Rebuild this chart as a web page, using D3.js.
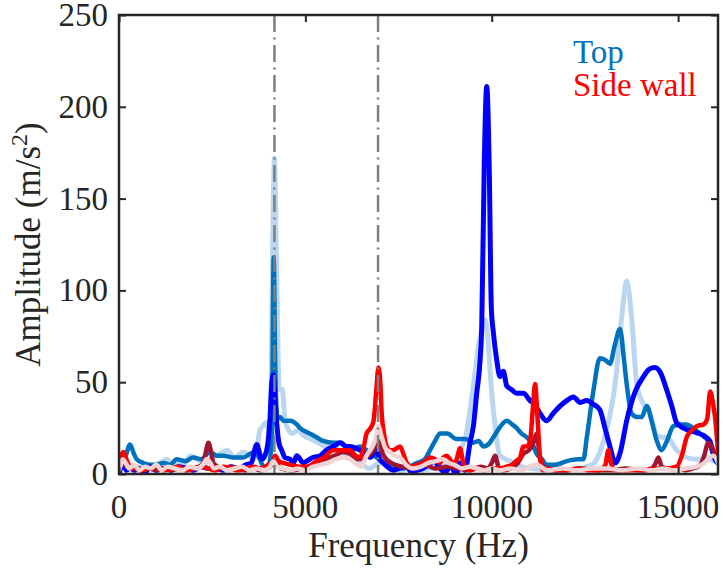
<!DOCTYPE html>
<html>
<head>
<meta charset="utf-8">
<script src="https://cdn.jsdelivr.net/npm/d3@7"></script>
</head>
<body style="margin:0">
<svg id="chart" width="723" height="569"></svg>
<script>
// ---------------- DATA ----------------
const xTicks = [0, 5000, 10000, 15000];
const yTicks = [0, 50, 100, 150, 200, 250];
const refLines = [4170, 6950];
const legendLabels = ["Top", "Side wall"];
const legendColors = ["#0072BD", "#FF0000"];

// Top - light blue
const topLightF = [0,100,200,350,500,700,900,1100,1280,1450,1600,1750,1900,2100,2300,2500,2700,2900,3100,3340,3500,3650,3780,3850,3960,4060,4120,4170,4230,4300,4380,4450,4520,4650,4800,4950,5150,5350,5550,5750,5950,6150,6350,6500,6700,6900,7100,7300,7550,7800,8100,8400,8700,9000,9150,9300,9420,9550,9650,9750,9820,9900,9960,10000,10090,10220,10500,10800,11100,11500,11900,12300,12550,12750,13000,13150,13310,13490,13620,13750,13890,14070,14250,14430,14600,14700,14960,15230,15500,15800,16070];
const topLightA = [3,6,4,5,3,5,4,6,8,5,7,5,10,8,6,9,11,13,9,12,10,9,24,26,28,20,120,172,110,46,46,30,25,22,24,21,19,17,15,15,12,10,8,6,3,5,7,3,2,3,2,3,4,6,13,20,35,55,70,80,84,73,55,44,26,10,7,4,3,2,2,3,4,6,18,30,49,86,105,86,49,38,33,21,20,20,13,9,8,8,6];

// Top - MATLAB blue
const topMidF = [0,80,160,295,400,474,653,850,1010,1190,1370,1548,1770,1994,2200,2440,2620,2800,3068,3336,3515,3650,3780,3900,4020,4100,4150,4190,4250,4320,4410,4590,4770,4860,5124,5300,5480,5750,5950,6200,6470,6700,6910,7100,7270,7600,7990,8200,8345,8480,8613,8800,9060,9300,9506,9650,9775,9900,10044,10200,10402,10550,10670,10800,10940,11100,11206,11350,11475,11700,12012,12300,12460,12550,12725,12900,13050,13170,13300,13440,13550,13620,13750,13900,14020,14160,14300,14430,14560,14700,14870,15050,15230,15400,15590,15800,16000,16070];
const topMidA = [3,8,9,16,11,8,6,5,5,6,5,8,7,9,8,12,10,10,9,9,11,12,8,3,5,20,118,60,30,31,29,29,27,25,22,20,18,17,17,13,15,12,9,6,4,3,6,8,13,18,22,22,19,19,17,18,15,16,20,25,29,27,25,22,20,16,11,8,5,5,7,8,8,20,45,63,62,60,70,79,62,49,33,31,31,37,28,18,13,18,26,27,27,25,22,18,8,6];

// Top - pure blue
const topDarkF = [0,60,120,200,300,400,550,700,850,1000,1200,1400,1600,1800,2000,2200,2400,2600,2800,3000,3200,3400,3550,3694,3830,3950,4050,4100,4140,4190,4230,4300,4365,4450,4590,4680,4770,4950,5034,5200,5400,5570,5750,5930,6100,6200,6350,6470,6600,6740,6910,7000,7090,7200,7360,7500,7720,7850,7990,8150,8300,8450,8613,8750,8900,9050,9149,9283,9417,9506,9597,9680,9731,9800,9866,9930,9990,10044,10134,10223,10310,10402,10530,10670,10850,11028,11150,11296,11475,11650,11830,12012,12190,12370,12550,12725,12900,13050,13170,13310,13450,13620,13850,14070,14220,14380,14530,14690,14830,14960,15150,15410,15680,15850,15990,16070];
const topDarkA = [0,4,5,2,4,2,3,1,4,2,3,2,4,3,2,4,3,3,2,4,3,5,6,16,8,12,30,50,54,40,28,16,13,9,8,6,10,6,7,9,10,13,15,17,15,15,14,13,11,9,13,8,6,4,2,3,4,1,2,3,5,7,3,1,4,0,6,2,17,26,44,60,80,170,211,170,90,77,62,53,56,48,46,44,44,40,38,33,29,33,37,40,42,39,40,38,35,24,15,6,12,29,45,53,57,58,55,46,37,28,25,23,21,18,8,6];

// Side wall - red
const sideRedF = [0,60,116,180,260,350,450,600,800,1000,1200,1400,1600,1800,2000,2200,2400,2600,2800,3000,3200,3400,3600,3800,4000,4100,4190,4280,4410,4600,4860,5050,5300,5500,5750,6020,6200,6350,6470,6560,6640,6750,6830,6900,6960,7010,7045,7110,7180,7260,7360,7450,7540,7630,7720,7850,7990,8150,8350,8480,8610,8700,8790,8880,8970,9060,9149,9238,9330,9417,9600,9800,10000,10200,10400,10536,10650,10760,10850,10940,11028,11100,11162,11230,11296,11385,11500,11700,12000,12300,12600,12900,13050,13130,13200,13300,13500,13800,14100,14400,14700,14960,15100,15230,15380,15500,15680,15780,15860,15940,15990,16070];
const sideRedA = [5,10,12,9,5,3,4,2,3,4,2,3,4,2,3,4,3,2,4,3,2,3,4,3,5,6,10,7,6,5,4,4,7,9,13,13,13,10,9,14,22,25,29,45,58,50,34,22,15,13,13,14,15,11,6,4,5,6,9,8,6,9,10,8,5,8,14,6,3,2,3,2,3,3,4,5,7,9,15,15,18,35,49,30,9,2,3,2,2,3,2,2,5,13,6,2,2,2,2,3,3,4,10,20,24,26,27,30,45,38,31,12];

// Side wall - dark red
const sideDarkF = [0,100,200,400,600,800,1000,1200,1400,1600,1800,2000,2150,2260,2330,2400,2470,2530,2650,2800,3000,3200,3400,3600,3800,4000,4170,4350,4600,4900,5200,5500,5800,6000,6200,6400,6600,6800,6950,7100,7300,7600,7900,8200,8500,8800,9100,9400,9700,9900,10000,10089,10180,10300,10500,10700,10850,11000,11100,11206,11300,11450,11700,12000,12400,12800,13200,13600,14000,14300,14400,14470,14560,14700,15000,15200,15400,15600,15700,15810,15900,16000,16070];
const sideDarkA = [3,6,4,3,2,3,2,3,2,3,2,3,4,6,12,17,12,6,4,3,4,3,2,3,2,3,6,3,2,3,5,8,10,12,11,8,9,12,18,10,6,4,3,5,3,4,3,2,4,3,6,10,4,2,3,6,11,13,16,22,8,3,2,2,3,2,2,3,2,3,6,9,4,3,3,2,3,5,10,17,15,10,8];

// Side wall - light pink
const sidePinkF = [0,50,100,180,280,400,550,700,850,1000,1150,1300,1500,1700,1900,2100,2250,2350,2450,2550,2700,2900,3100,3300,3500,3700,3900,4050,4140,4250,4400,4600,4800,5000,5200,5400,5600,5800,6000,6200,6400,6500,6640,6800,6900,6960,7050,7150,7270,7400,7540,7700,7900,8100,8300,8500,8700,8850,9000,9200,9400,9600,9800,10000,10200,10500,10800,11000,11200,11500,11900,12300,12700,13100,13500,13900,14300,14600,14900,15200,15500,15700,15850,15950,16070];
const sidePinkA = [2,5,8,6,3,5,2,4,3,5,2,4,3,2,4,3,5,8,6,3,4,2,3,4,2,3,2,4,7,4,3,2,3,2,4,5,6,8,9,8,5,4,10,15,20,26,20,14,12,10,9,5,3,4,6,7,8,6,5,3,4,3,2,3,2,3,2,4,5,2,3,2,3,3,2,3,2,3,2,3,4,6,9,10,6];

// ---------------- CHART ----------------
const fam = "Liberation Serif";
const FONT = `"${fam}", monospace`;
const L = 119, R = 718, T = 15, B = 474;
const svg = d3.select("#chart");

const x = d3.scaleLinear().domain([0, 16070]).range([L, R]);
const y = d3.scaleLinear().domain([0, 250]).range([B, T]);

svg.append("defs").append("clipPath").attr("id", "plotClip")
  .append("rect").attr("x", L).attr("y", T).attr("width", R - L).attr("height", B - T);

const series = [
  { f: topLightF, a: topLightA, color: "#BBD6F1", w: 5 },
  { f: topMidF,   a: topMidA,   color: "#0072BD", w: 4.5 },
  { f: topDarkF,  a: topDarkA,  color: "#0000FF", w: 5 },
  { f: sideDarkF, a: sideDarkA, color: "#A2142F", w: 4.5 },
  { f: sideRedF,  a: sideRedA,  color: "#FF0000", w: 4.5 },
  { f: sidePinkF, a: sidePinkA, color: "#F0D3D3", w: 4.5 }
];

const line = d3.line()
  .x(d => x(d[0])).y(d => y(d[1]))
  .curve(d3.curveMonotoneX);

const gData = svg.append("g").attr("clip-path", "url(#plotClip)");
series.forEach(s => {
  const pts = s.f.map((v, i) => [v, s.a[i]]);
  gData.append("path")
    .datum(pts)
    .attr("d", line)
    .attr("fill", "none")
    .attr("stroke", s.color)
    .attr("stroke-width", s.w)
    .attr("stroke-linejoin", "round")
    .attr("stroke-linecap", "round");
});

// reference dash-dot lines
svg.append("g").selectAll("line").data(refLines).join("line")
  .attr("x1", d => x(d)).attr("x2", d => x(d))
  .attr("y1", T).attr("y2", B)
  .attr("stroke", "#7F7F7F")
  .attr("stroke-width", 2.5)
  .attr("stroke-dasharray", "17,5.5,2,5.5");

// axes (ticks only; labels drawn as separate texts)
const axisColor = "#262626";
const tickLen = 7;
function ticksOnly(axis, transform) {
  const g = svg.append("g").attr("transform", transform)
    .call(axis.tickFormat("").tickSizeInner(-tickLen).tickSizeOuter(0));
  g.select(".domain").remove();
  g.selectAll(".tick text").remove();
  g.selectAll(".tick line").attr("stroke", axisColor).attr("stroke-width", 2);
  return g;
}
ticksOnly(d3.axisBottom(x).tickValues(xTicks), `translate(0,${B})`);
ticksOnly(d3.axisTop(x).tickValues(xTicks), `translate(0,${T})`);
ticksOnly(d3.axisLeft(y).tickValues(yTicks), `translate(${L},0)`);
ticksOnly(d3.axisRight(y).tickValues(yTicks), `translate(${R},0)`);

svg.append("rect")
  .attr("x", L).attr("y", T).attr("width", R - L).attr("height", B - T)
  .attr("fill", "none").attr("stroke", axisColor).attr("stroke-width", 2.5);

const texts = [];
xTicks.forEach(v => {
  const t = svg.append("text").attr("x", x(v)).attr("y", 518).attr("font-size", 33)
    .style("font-family", FONT).attr("text-anchor", "middle").attr("fill", axisColor).text(String(v));
  texts.push(t);
});
yTicks.forEach(v => {
  const t = svg.append("text").attr("x", 108).attr("y", y(v) + 11).attr("font-size", 33)
    .style("font-family", FONT).attr("text-anchor", "end").attr("fill", axisColor).text(String(v));
  texts.push(t);
});

// axis labels
texts.push(svg.append("text")
  .attr("x", (L + R) / 2).attr("y", 557)
  .attr("font-size", 35)
  .style("font-family", FONT)
  .attr("text-anchor", "middle")
  .attr("fill", axisColor)
  .text("Frequency (Hz)"));

const yl = svg.append("text")
  .attr("transform", `translate(40,${(T + B) / 2}) rotate(-90)`)
  .attr("font-size", 35)
  .style("font-family", FONT)
  .attr("text-anchor", "middle")
  .attr("fill", axisColor);
yl.append("tspan").text("Amplitude (m/s");
yl.append("tspan").attr("dy", -13).attr("font-size", 24).text("2");
yl.append("tspan").attr("dy", 13).text(")");
texts.push(yl);

// legend
legendLabels.forEach((d, i) => {
  texts.push(svg.append("text")
    .attr("x", 573).attr("y", 63 + i * 33)
    .attr("font-size", 33)
    .style("font-family", FONT)
    .attr("fill", legendColors[i])
    .text(d));
});

// force layout so the font is resolved before painting
texts.forEach(t => t.node().getComputedTextLength());
</script>
</body>
</html>
